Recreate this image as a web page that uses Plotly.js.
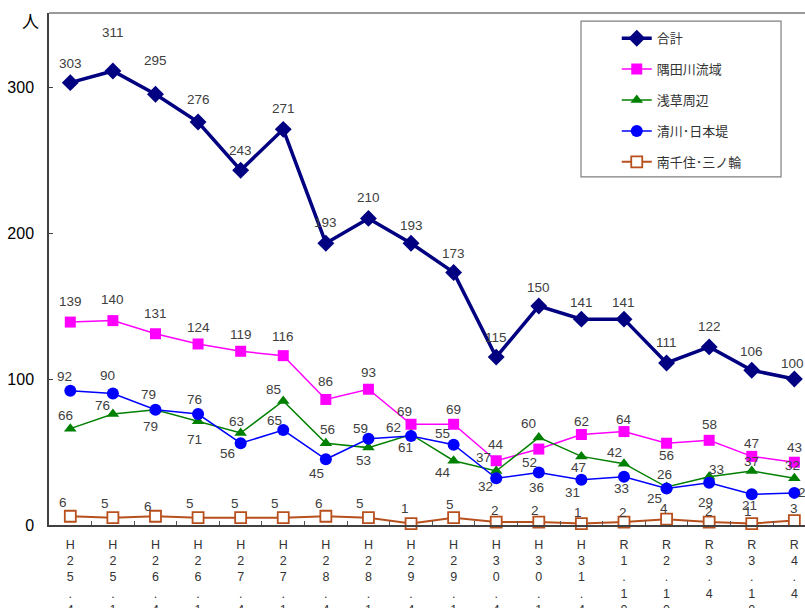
<!DOCTYPE html>
<html>
<head>
<meta charset="utf-8">
<script src="https://cdn.plot.ly/plotly-3.0.1.min.js"></script>
<style>
html,body{margin:0;padding:0;background:#fff;overflow:hidden;}
#chart{width:805px;height:608px;}
</style>
</head>
<body>
<div id="chart"></div>
<script>
// ---- data ----
var categories = ["H25.4","H25.10","H26.4","H26.10","H27.4","H27.10","H28.4","H28.10","H29.4","H29.10","H30.4","H30.10","H31.4","R1.10","R2.10","R3.4","R3.10","R4.4"];
var seriesNames = ["合計","隅田川流域","浅草周辺","清川･日本堤","南千住･三ノ輪"];
var total      = [303,311,295,276,243,271,193,210,193,173,115,150,141,141,111,122,106,100];
var sumidagawa = [139,140,131,124,119,116,86,93,69,69,44,52,62,64,56,58,47,43];
var asakusa    = [66,76,79,71,63,85,56,53,62,44,37,60,47,42,26,33,37,32];
var kiyokawa   = [92,90,79,76,56,65,45,59,61,55,32,36,31,33,25,29,21,22];
var minami     = [6,5,6,5,5,5,6,5,1,5,2,2,1,2,4,2,1,3];
var yTicks = [0,100,200,300];
var yUnit = "人";

// ---- styles ----
var colors = ["#000080","#FF00FF","#008000","#0000FF","#B8501E"];
var labelFont = {family:"Liberation Sans Narrow, Liberation Sans, Arial, sans-serif", size:13.5, color:"#404040"};
// label offsets in pixels [dx, dy(up)]
var offTotal = {dx:[0,0,0,0,0,0,0,0,0,0,0,0,0,0,0,0,0,-2], dy:[19,38,34,23,20,21,21,21,18,19,20,19,17,17,20,20,19,16]};
var offSumida = {dx:[0,0,0,0,0,0,0,0,-7,0,0,-9,0,0,0,0,0,0], dy:[21,21,20,16,17,19,18,17,13,15,16,-13,13,12,-12,16,13,15]};
var offAsakusa = {dx:[-5,-10,-5,-4,-4,-10,2,-5,-18,-11,-13,-10,-3,-9,-2,7,0,-2], dy:[13,9,-17,-18,12,11,14,-13,7,-12,13,14,-11,11,13,7,9,13]};
var offKiyo = {dx:[-6,-5,-7,-4,-13,-9,-9,-8,-6,-11,-11,-2,-9,-2,-12,-4,-2,11], dy:[14,18,15,15,-10,10,-14,10,-12,11,-8,-15,-13,-12,-10,-20,-11,0]};
var offMinami = {dx:[-7,-8,-7,-8,-6,-8,-7,-8,-6,-4,-1,-4,-3,-1,-3,0,-4,0], dy:[14,14,10,14,14,14,13,14,15,13,12,12,11,10,11,11,12,12]};

function vertLabel(s){ return s.split("").join("<br>"); }

var seriesData = [total, sumidagawa, asakusa, kiyokawa, minami];
var offsets = [offTotal, offSumida, offAsakusa, offKiyo, offMinami];
var markers = [
  {symbol:"diamond", size:13, color:colors[0]},
  {symbol:"square", size:11, color:colors[1]},
  {symbol:"triangle-up", size:11, color:colors[2]},
  {symbol:"circle", size:12, color:colors[3]},
  {symbol:"square", size:11, color:"#FFFFFF", line:{color:colors[4], width:1.8}}
];
var lineWidths = [3.5,1.5,1.5,1.5,2];

var traces = seriesData.map(function(vals,k){
  return {
    type:"scatter", mode:"lines+markers",
    x:categories, y:vals, name:seriesNames[k],
    legendgroup:"g"+k,
    line:{color:colors[k], width:lineWidths[k]},
    marker:markers[k],
    cliponaxis:false,
    hoverinfo:"x+y+name"
  };
});

var annotations = [];
seriesData.forEach(function(vals,k){
  vals.forEach(function(v,i){
    annotations.push({
      x:categories[i], y:v, xref:"x", yref:"y",
      text:String(v), showarrow:false,
      xshift:offsets[k].dx[i], yshift:offsets[k].dy[i],
      xanchor:"center", yanchor:"middle",
      font:labelFont
    });
  });
});
annotations.push({
  xref:"paper", yref:"paper", x:-0.025, y:0.986, text:yUnit, showarrow:false,
  xanchor:"center", yanchor:"middle",
  font:{family:"Noto Sans CJK JP, sans-serif", size:17, color:"#000"}
});

var layout = {
  width:805, height:608,
  margin:{l:49, r:0, t:13, b:83, pad:0},
  paper_bgcolor:"#fff", plot_bgcolor:"#fff",
  showlegend:true,
  legend:{
    x:0.751, y:0.980, xanchor:"left", yanchor:"top",
    bgcolor:"rgba(0,0,0,0)", borderwidth:0,
    font:{family:"Noto Sans CJK JP, sans-serif", size:13, color:"#333"},
    tracegroupgap:11, traceorder:"grouped", itemwidth:30
  },
  xaxis:{
    type:"category", range:[-0.5,17.25],
    tickmode:"array", tickvals:categories, ticktext:categories.map(vertLabel),
    tickson:"boundaries", ticks:"inside", ticklen:4, tickcolor:"#555",
    showline:true, linecolor:"#404040", linewidth:1.5,
    showgrid:false, zeroline:false, ticklabelstandoff:7,
    tickfont:{family:"Liberation Sans Narrow, Liberation Sans, Arial, sans-serif", size:12.5, color:"#333"}
  },
  yaxis:{
    range:[0,350.7], tickmode:"array", tickvals:yTicks,
    ticks:"inside", ticklen:4, tickcolor:"#404040",
    showline:true, linecolor:"#404040", linewidth:1.5,
    showgrid:false, zeroline:false, ticklabelstandoff:10,
    tickfont:{family:"Liberation Sans, Arial, sans-serif", size:16, color:"#000"}
  },
  shapes:[
    {type:"line", xref:"paper", yref:"paper", x0:0, x1:1, y0:1, y1:1, line:{color:"#9a9a9a", width:2}},
    {type:"rect", xref:"paper", yref:"paper", x0:0.7037, x1:0.9683, y0:0.680, y1:0.984, line:{color:"#808080", width:1.2}, fillcolor:"rgba(0,0,0,0)"}
  ],
  annotations:annotations,
  hovermode:"closest"
};

Plotly.newPlot("chart", traces, layout, {displayModeBar:false, staticPlot:false});
</script>
</body>
</html>
